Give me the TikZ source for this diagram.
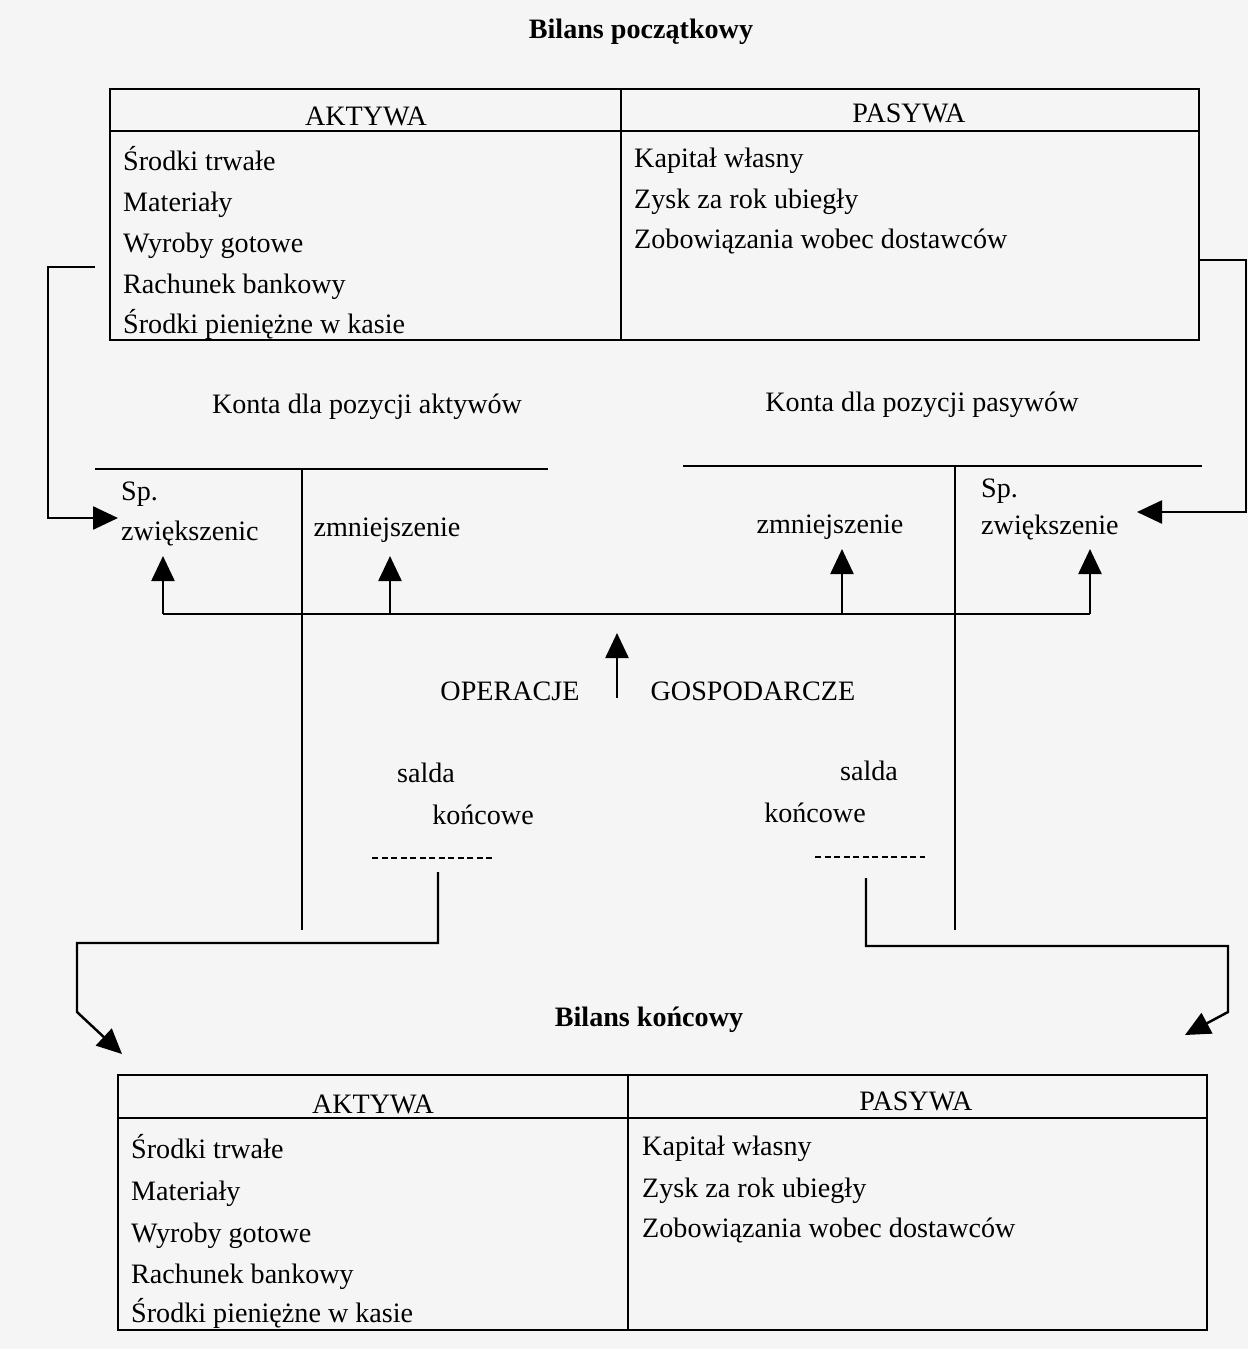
\documentclass[tikz,border=0pt]{standalone}
\usepackage{fontspec}
\setmainfont{Liberation Serif}
\usetikzlibrary{arrows.meta}

\begin{document}
\begin{tikzpicture}[x=0.1mm, y=-0.1mm, line width=0.7pt,
  font=\fontsize{8}{10}\selectfont,
  title/.style={font=\fontsize{8}{10}\selectfont\bfseries},
  item/.style={anchor=base west, inner sep=0pt},
  arr/.style={-{Triangle[length=2.5mm, width=2.3mm]}},
  saldo/.style={line width=0.5pt, dash pattern=on 0.6mm off 0.35mm}]

\fill[black!4] (0,0) rectangle (1248,1349);

% bilans poczatkowy
\node[title] (bp) at (641,32) {Bilans początkowy};
\draw (110,89) rectangle (1199,340);
\draw (110,131) -- (1199,131);
\draw (621,89) -- (621,340);
\node (ha1) at (366,116) {AKTYWA};
\node (hp1) at (909,113) {PASYWA};

\node[item] (a11) at (122,170) {Środki trwałe};
\node[item] (a12) at (122,211) {Materiały};
\node[item] (a13) at (122,252) {Wyroby gotowe};
\node[item] (a14) at (122,293) {Rachunek bankowy};
\node[item] (a15) at (122,333) {Środki pieniężne w kasie};

\node[item] (p11) at (633,167) {Kapitał własny};
\node[item] (p12) at (633,208) {Zysk za rok ubiegły};
\node[item] (p13) at (633,248) {Zobowiązania wobec dostawców};

% konta
\node (ka) at (367,407) {Konta dla pozycji aktywów};
\node (kp) at (922,405) {Konta dla pozycji pasywów};

\draw (95,469) -- (548,469);
\draw (302,469) -- (302,930);
\draw (683,466) -- (1202,466);
\draw (955,466) -- (955,930);

\node[item] (spa) at (120,500) {Sp.};
\node[item] (zwa) at (120,540) {zwiększenic};
\node (zma) at (387,530) {zmniejszenie};
\node (zmp) at (830,527) {zmniejszenie};
\node[item] (spp) at (980,497) {Sp.};
\node[item] (zwp) at (980,534) {zwiększenie};

% saldo poczatkowe
\coordinate (la) at (95,267);
\coordinate (la1) at (48,267);
\coordinate (la2) at (48,518);
\coordinate (la3) at (118,518);
\draw[arr] (la) -- (la1) -- (la2) -- (la3);

\coordinate (lp) at (1199,260);
\coordinate (lp1) at (1246,260);
\coordinate (lp2) at (1246,512);
\coordinate (lp3) at (1137,512);
\draw[arr] (lp) -- (lp1) -- (lp2) -- (lp3);

% operacje gospodarcze
\coordinate (b1) at (163,614);
\coordinate (b2) at (390,614);
\coordinate (b3) at (842,614);
\coordinate (b4) at (1090,614);
\draw (b1) -- (b4);
\draw[arr] (b1) -- (163,556);
\draw[arr] (b2) -- (390,556);
\draw[arr] (b3) -- (842,549);
\draw[arr] (b4) -- (1090,549);

\coordinate (o1) at (617,698);
\coordinate (o2) at (617,633);
\draw[arr] (o1) -- (o2);
\node (op) at (510,691) {OPERACJE};
\node (gs) at (753,691) {GOSPODARCZE};

% salda koncowe
\node (sa) at (426,773) {salda};
\node (ko) at (483,815) {końcowe};
\draw[saldo] (372,858) -- (492,858);
\node (sp) at (869,771) {salda};
\node (kp2) at (815,813) {końcowe};
\draw[saldo] (815,857) -- (925,857);

\coordinate (da) at (438,872);
\coordinate (da1) at (438,943);
\coordinate (da2) at (77,943);
\coordinate (da3) at (77,1012);
\coordinate (da4) at (122,1054);
\draw[arr] (da) -- (da1) -- (da2) -- (da3) -- (da4);

\coordinate (dp) at (866,878);
\coordinate (dp1) at (866,946);
\coordinate (dp2) at (1228,946);
\coordinate (dp3) at (1228,1012);
\coordinate (dp4) at (1185,1035);
\draw[arr] (dp) -- (dp1) -- (dp2) -- (dp3) -- (dp4);

% bilans koncowy
\node[title] (bk) at (649,1020) {Bilans końcowy};
\draw (118,1075) rectangle (1207,1330);
\draw (118,1118) -- (1207,1118);
\draw (628,1075) -- (628,1330);
\node (ha2) at (373,1104) {AKTYWA};
\node (hp2) at (916,1101) {PASYWA};

\node[item] (a21) at (130,1158) {Środki trwałe};
\node[item] (a22) at (130,1200) {Materiały};
\node[item] (a23) at (130,1242) {Wyroby gotowe};
\node[item] (a24) at (130,1283) {Rachunek bankowy};
\node[item] (a25) at (130,1322) {Środki pieniężne w kasie};

\node[item] (p21) at (641,1155) {Kapitał własny};
\node[item] (p22) at (641,1197) {Zysk za rok ubiegły};
\node[item] (p23) at (641,1237) {Zobowiązania wobec dostawców};

\end{tikzpicture}
\end{document}
